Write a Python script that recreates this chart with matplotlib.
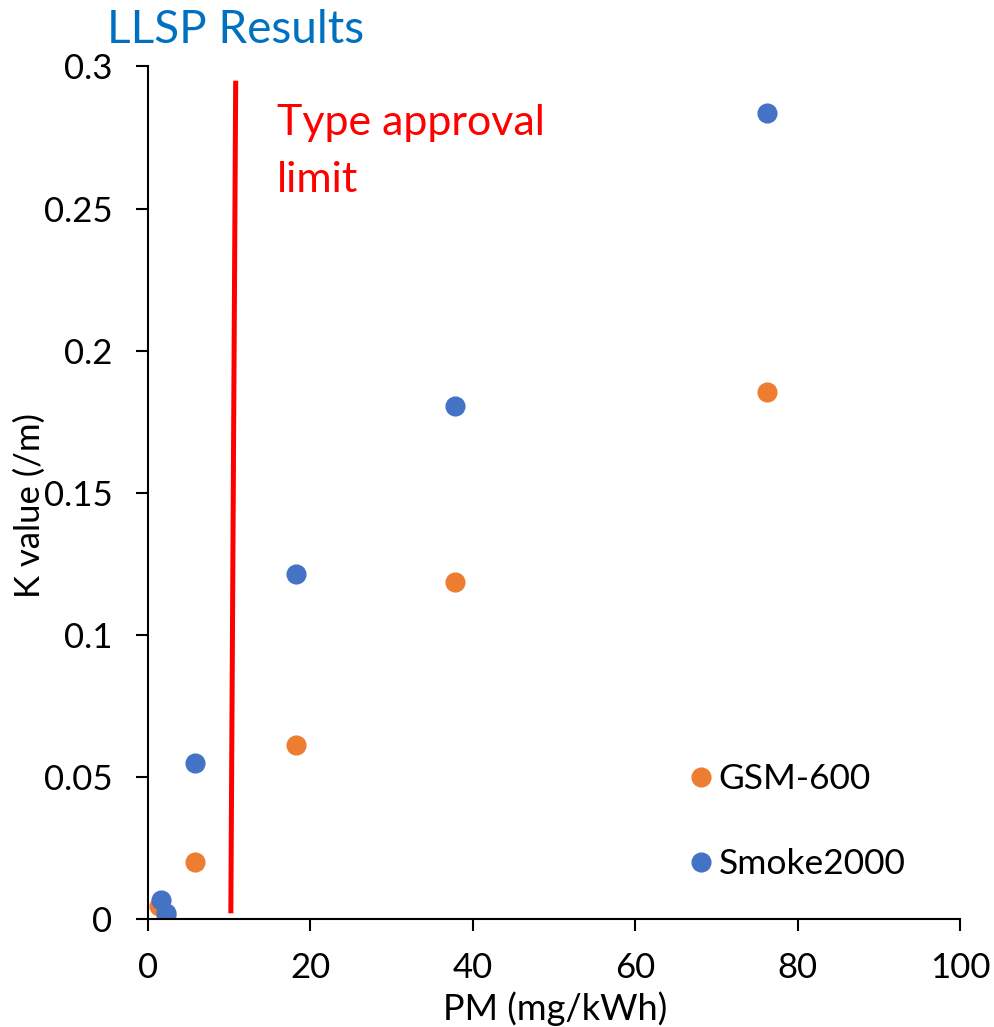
import matplotlib.pyplot as plt

plt.rcParams['font.family'] = ['Lato', 'DejaVu Sans']

pm_gsm = [1.3, 2.2, 5.8, 18.2, 37.8, 76.2]
k_gsm = [0.0045, 0.0013, 0.0201, 0.0613, 0.1187, 0.1853]
pm_smoke = [1.6, 2.2, 5.8, 18.2, 37.8, 76.2]
k_smoke = [0.0067, 0.0021, 0.0549, 0.1215, 0.1806, 0.2837]

# Grenzwertlinie
limit_x = [10.8, 10.2]
limit_y = [0.295, 0.002]

x_ticks = [0, 20, 40, 60, 80, 100]
y_ticks = [0, 0.05, 0.1, 0.15, 0.2, 0.25, 0.3]
y_tick_labels = ['0', '0.05', '0.1', '0.15', '0.2', '0.25', '0.3']

W, H = 994, 1027
fig = plt.figure(figsize=(W / 100, H / 100), dpi=100)
ax = fig.add_axes([148 / W, 1 - 919 / H, (960 - 148) / W, (919 - 66.5) / H])

ax.plot(limit_x, limit_y, color='#FF0000', linewidth=3.6, solid_capstyle='butt')
ax.plot(pm_gsm, k_gsm, 'o', color='#ED7D31', markersize=13.5, label='GSM-600')
ax.plot(pm_smoke, k_smoke, 'o', color='#4472C4', markersize=13.5, label='Smoke2000')

ax.set_xlim(0, 100)
ax.set_ylim(0, 0.3)
ax.set_xticks(x_ticks)
ax.set_yticks(y_ticks)
ax.set_yticklabels(y_tick_labels)

for side in ['top', 'right']:
    ax.spines[side].set_visible(False)
for side in ['left', 'bottom']:
    ax.spines[side].set_linewidth(1.5)
ax.tick_params(axis='both', direction='out', length=8.5, width=1.5, labelsize=25)
ax.tick_params(axis='y', pad=17)
ax.tick_params(axis='x', pad=15)

fig.text(555 / W, 1 - 1020 / H, 'PM (mg/kWh)', ha='center', va='baseline', fontsize=26)
fig.text(30 / W, 1 - 505 / H, 'K value (/m)', ha='center', va='center',
         rotation=90, fontsize=25)

fig.text(107 / W, 1 - 43 / H, 'LLSP Results', color='#0070C0', fontsize=33,
         ha='left', va='baseline')

fig.text(277 / W, 1 - 135 / H, 'Type approval', color='#FF0000', fontsize=31,
         ha='left', va='baseline')
fig.text(277 / W, 1 - 192 / H, 'limit', color='#FF0000', fontsize=31,
         ha='left', va='baseline')

leg = ax.legend(loc='upper left', bbox_to_anchor=(690 / W, 1 - 763 / H),
                bbox_transform=fig.transFigure, frameon=False, fontsize=25.5,
                handlelength=0.6, handletextpad=0.2, labelspacing=1.5,
                borderpad=0, borderaxespad=0)

fig.savefig('out.png', dpi=100)
